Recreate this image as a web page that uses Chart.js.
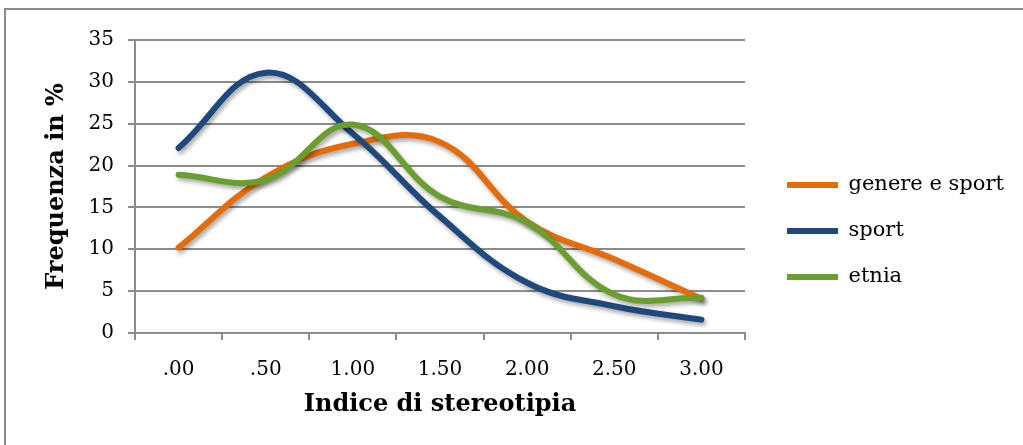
<!DOCTYPE html>
<html><head><meta charset="utf-8">
<script src="https://cdn.jsdelivr.net/npm/chart.js@4.4.1/dist/chart.umd.min.js"></script>
<style>
html,body{margin:0;padding:0;background:#fff;overflow:hidden;width:1023px;height:445px;}
#wrap{position:absolute;left:0;top:0;width:1023px;height:445px;}
#frame{position:absolute;left:4px;top:8px;width:1100px;height:600px;border:2px solid #8a8a8a;box-sizing:border-box;pointer-events:none;}
</style></head><body>
<div id="wrap"><canvas id="c" width="1023" height="445"></canvas></div>
<div id="frame"></div>
<script>
// ---- data ----
const categories = ['.00', '.50', '1.00', '1.50', '2.00', '2.50', '3.00'];
const genereSport = [10.2, 18.6, 22.6, 22.8, 13.3, 8.8, 4.1];
const sport = [22.1, 31.1, 23.8, 13.9, 6.0, 3.2, 1.6];
const etnia = [18.9, 18.3, 24.9, 16.3, 13.2, 4.6, 4.2];
const seriesNames = ['genere e sport', 'sport', 'etnia'];
const yMin = 0, yMax = 35, yStep = 5;
const xTitle = 'Indice di stereotipia';
const yTitle = 'Frequenza in %';

const colors = ['#E46C0A', '#1F497D', '#6A9E2E'];
const GRID = '#8c8c8c';

const shadowPlugin = {
  id: 'shadow',
  beforeDatasetsDraw(chart) {
    const ctx = chart.ctx;
    ctx.save();
    ctx.shadowColor = 'rgba(0,0,0,0.35)';
    ctx.shadowBlur = 4;
    ctx.shadowOffsetX = 2;
    ctx.shadowOffsetY = 3;
  },
  afterDatasetsDraw(chart) { chart.ctx.restore(); }
};

const seriesData = [genereSport, sport, etnia];
const datasets = seriesNames.map((name, i) => ({
  label: name,
  data: seriesData[i],
  borderColor: colors[i],
  backgroundColor: colors[i],
  borderWidth: 6,
  borderCapStyle: 'round',
  borderJoinStyle: 'round',
  tension: 0.4,
  pointRadius: 0,
  fill: false,
  order: 3 - i
}));

Chart.defaults.font.family = "'DejaVu Serif', serif";
Chart.defaults.color = '#000';

new Chart(document.getElementById('c'), {
  type: 'line',
  data: { labels: categories, datasets },
  plugins: [shadowPlugin],
  options: {
    responsive: false,
    animation: false,
    layout: { padding: { top: 40, bottom: 23, left: 0, right: 11 } },
    plugins: {
      legend: {
        position: 'right',
        maxWidth: 250,
        labels: {
          usePointStyle: true,
          pointStyle: 'line',
          pointStyleWidth: 51,
          padding: 25,
          font: { size: 21 },
          color: '#000',
          sort: (a, b) => a.datasetIndex - b.datasetIndex
        }
      },
      tooltip: { enabled: false }
    },
    scales: {
      x: {
        offset: true,
        grid: { offset: true, drawOnChartArea: false, drawTicks: true, tickLength: 7, color: GRID, lineWidth: 2 },
        border: { color: GRID, width: 2 },
        ticks: { font: { size: 20 }, padding: 18, maxRotation: 0 },
        title: { display: true, text: xTitle, font: { size: 24, weight: 'bold' }, padding: { top: 0, bottom: 3 } },
        afterFit(s) { s.height = 89; }
      },
      y: {
        min: yMin, max: yMax,
        ticks: { stepSize: yStep, font: { size: 20 }, padding: 14 },
        grid: { color: GRID, lineWidth: 2, tickLength: 7 },
        border: { color: GRID, width: 2 },
        title: { display: true, text: yTitle, font: { size: 24, weight: 'bold' }, padding: { top: 42, bottom: 0 } },
        afterFit(s) { s.width = 135; }
      },
      gap: {
        type: 'linear', position: 'right', display: true,
        grid: { display: false }, border: { display: false }, ticks: { display: false },
        afterFit(s) { s.width = 17; }
      }
    }
  }
});
</script>
</body></html>
